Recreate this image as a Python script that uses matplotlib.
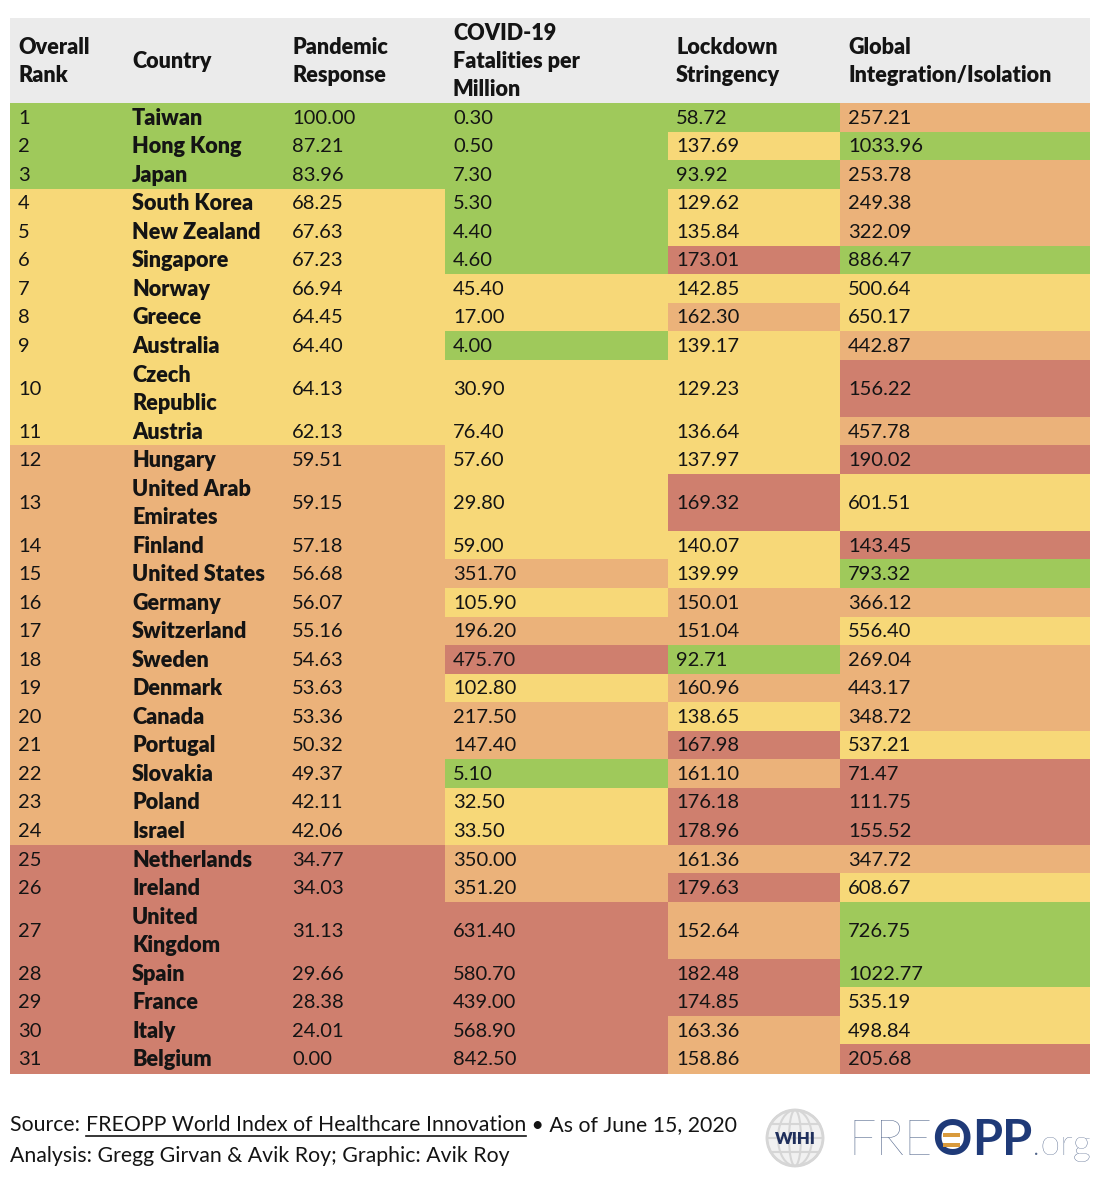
import matplotlib
matplotlib.use("Agg")
import matplotlib.pyplot as plt
from matplotlib.patches import Rectangle, Circle, Ellipse

# ---------------- data ----------------
ranks = list(range(1, 32))
countries = ["Taiwan", "Hong Kong", "Japan", "South Korea", "New Zealand", "Singapore",
             "Norway", "Greece", "Australia", "Czech\nRepublic", "Austria", "Hungary",
             "United Arab\nEmirates", "Finland", "United States", "Germany", "Switzerland",
             "Sweden", "Denmark", "Canada", "Portugal", "Slovakia", "Poland", "Israel",
             "Netherlands", "Ireland", "United\nKingdom", "Spain", "France", "Italy", "Belgium"]
pandemic = [100.00, 87.21, 83.96, 68.25, 67.63, 67.23, 66.94, 64.45, 64.40, 64.13, 62.13,
            59.51, 59.15, 57.18, 56.68, 56.07, 55.16, 54.63, 53.63, 53.36, 50.32, 49.37,
            42.11, 42.06, 34.77, 34.03, 31.13, 29.66, 28.38, 24.01, 0.00]
fatalities = [0.30, 0.50, 7.30, 5.30, 4.40, 4.60, 45.40, 17.00, 4.00, 30.90, 76.40,
              57.60, 29.80, 59.00, 351.70, 105.90, 196.20, 475.70, 102.80, 217.50, 147.40,
              5.10, 32.50, 33.50, 350.00, 351.20, 631.40, 580.70, 439.00, 568.90, 842.50]
lockdown = [58.72, 137.69, 93.92, 129.62, 135.84, 173.01, 142.85, 162.30, 139.17, 129.23,
            136.64, 137.97, 169.32, 140.07, 139.99, 150.01, 151.04, 92.71, 160.96, 138.65,
            167.98, 161.10, 176.18, 178.96, 161.36, 179.63, 152.64, 182.48, 174.85, 163.36,
            158.86]
global_int = [257.21, 1033.96, 253.78, 249.38, 322.09, 886.47, 500.64, 650.17, 442.87,
              156.22, 457.78, 190.02, 601.51, 143.45, 793.32, 366.12, 556.40, 269.04,
              443.17, 348.72, 537.21, 71.47, 111.75, 155.52, 347.72, 608.67, 726.75,
              1022.77, 535.19, 498.84, 205.68]
headers = ["Overall\nRank", "Country", "Pandemic\nResponse", "COVID-19\nFatalities per\nMillion",
           "Lockdown\nStringency", "Global\nIntegration/Isolation"]
source_prefix = "Source: "
source_link = "FREOPP World Index of Healthcare Innovation"
source_suffix = " \u2022 As of June 15, 2020"
analysis_text = "Analysis: Gregg Girvan & Avik Roy; Graphic: Avik Roy"

# ---------------- styles ----------------
GREEN, YELLOW, ORANGE, RED = "#9fc95b", "#f7d878", "#ebb27a", "#cf7f6e"
HEADER_BG = "#ebebeb"
TXT = "#141414"
FONT = "Lato"
BOLD = "heavy"


def band(v, cuts, high_good=True):
    idx = sum(v > c for c in cuts)
    order = [RED, ORANGE, YELLOW, GREEN] if high_good else [GREEN, YELLOW, ORANGE, RED]
    return order[idx]


W, H = 1103, 1200
fig = plt.figure(figsize=(W / 100, H / 100), dpi=100)
ax = fig.add_axes([0, 0, 1, 1])
ax.set_xlim(0, W)
ax.set_ylim(H, 0)
ax.axis("off")

col_edges = [10, 124, 284, 445, 668, 840, 1090]
pad = 8
top, head_bot, table_bot = 18, 103, 1073
n_units = sum(c.count("\n") + 1 for c in countries)
unit = (table_bot - head_bot) / n_units
FS = 14.5
FSB = 15.6
LS = 28

# header
ax.add_patch(Rectangle((col_edges[0], top), col_edges[-1] - col_edges[0], head_bot - top,
                       facecolor=HEADER_BG, edgecolor="none"))
hc = (top + head_bot) / 2 + 0.5
for j, h in enumerate(headers):
    lines = h.split("\n")
    n = len(lines)
    for k, ln in enumerate(lines):
        ax.text(col_edges[j] + pad, hc + (k - (n - 1) / 2) * LS, ln, fontsize=FSB,
                fontweight=BOLD, family=FONT, color=TXT, va="center", ha="left")

# rows
y = head_bot
for i in range(len(ranks)):
    nl = countries[i].count("\n") + 1
    h = unit * nl
    cols = [band(pandemic[i], [40, 60, 80], True),
            band(fatalities[i], [10, 110, 400], False),
            band(lockdown[i], [100, 150, 165], False),
            band(global_int[i], [210, 480, 700], True)]
    spans = [(col_edges[0], col_edges[3]), (col_edges[3], col_edges[4]),
             (col_edges[4], col_edges[5]), (col_edges[5], col_edges[6])]
    for (x0, x1), c in zip(spans, cols):
        ax.add_patch(Rectangle((x0, y), x1 - x0, h + 0.6, facecolor=c, edgecolor="none"))
    cy = y + h / 2 + 1
    vals = [str(ranks[i]), None, f"{pandemic[i]:.2f}", f"{fatalities[i]:.2f}",
            f"{lockdown[i]:.2f}", f"{global_int[i]:.2f}"]
    for j, v in enumerate(vals):
        if j == 1:
            lines = countries[i].split("\n")
            for k, ln in enumerate(lines):
                ax.text(col_edges[1] + pad, cy + (k - (nl - 1) / 2) * unit, ln, fontsize=FSB,
                        fontweight=BOLD, family=FONT, color=TXT, va="center", ha="left")
        else:
            ax.text(col_edges[j] + pad, cy, v, fontsize=FS, family=FONT, color=TXT,
                    va="center", ha="left")
    y += h

# footer
renderer = fig.canvas.get_renderer()
inv = ax.transData.inverted()


def right_edge(t):
    bb = t.get_window_extent(renderer)
    return inv.transform((bb.x1, bb.y0))[0]


FFS = 15.3
y1, y2 = 1125, 1156
t = ax.text(10, y1, source_prefix, fontsize=FFS, family=FONT, color=TXT, va="center")
x = right_edge(t)
t2 = ax.text(x, y1, source_link, fontsize=FFS, family=FONT, color=TXT, va="center")
x2 = right_edge(t2)
ax.plot([x, x2], [y1 + 11, y1 + 11], color=TXT, lw=1.2)
ax.text(x2, y1, source_suffix, fontsize=FFS, family=FONT, color=TXT, va="center")
ax.text(10, y2, analysis_text, fontsize=FFS, family=FONT, color=TXT, va="center")

# WIHI logo
gc = (795, 1138)
ax.add_patch(Circle(gc, 28, facecolor="#f1f1f1", edgecolor="#d6d6d6", lw=2))
for wdt in [56, 34, 12]:
    ax.add_patch(Ellipse(gc, wdt, 56, facecolor="none", edgecolor="#d6d6d6", lw=1.5))
for dy, half in [(-14, 24), (0, 28), (14, 24)]:
    ax.plot([gc[0] - half, gc[0] + half], [gc[1] + dy, gc[1] + dy], color="#d6d6d6", lw=1.5)
ax.text(gc[0], gc[1] + 1, "WIHI", fontsize=12, fontweight=BOLD, family=FONT,
        color="#1f2f5c", ha="center", va="center")

# FREOPP logo
NAVY = "#1f3a78"
SLATE = "#4f6389"
base = 1155
LFS = 35
t = ax.text(848, base, "FRE", fontsize=LFS, fontweight="light", family=FONT, color=SLATE,
            va="baseline")
x = right_edge(t)
t = ax.text(x, base, "O", fontsize=LFS, fontweight="bold", family=FONT, color=NAVY,
            va="baseline")
bb = t.get_window_extent(renderer)
ox0 = inv.transform((bb.x0, bb.y0))[0]
ox1 = inv.transform((bb.x1, bb.y0))[0]
ocx = (ox0 + ox1) / 2
for dy in [-22, -12.5]:
    ax.add_patch(Rectangle((ocx - 8.5, base + dy), 17, 4.2, facecolor="#d99a3c",
                           edgecolor="none", zorder=5))
x = ox1
t = ax.text(x, base, "PP", fontsize=LFS, fontweight="bold", family=FONT, color=NAVY,
            va="baseline")
x = right_edge(t)
ax.text(x, base, ".org", fontsize=26, fontweight="light", family=FONT, color=SLATE,
        va="baseline")

fig.savefig("out.png", dpi=100)
